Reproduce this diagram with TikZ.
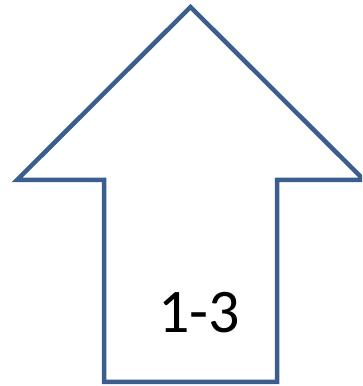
\documentclass[tikz,border=0pt]{standalone}
\usepackage{fontspec}
\setmainfont{Carlito}
\definecolor{arrowblue}{HTML}{3A5F8E}
\tikzset{arrowline/.style={draw=arrowblue,line width=4.5pt,line join=miter,fill=white}}
\begin{document}
\begin{tikzpicture}[x=1pt,y=1pt]
\useasboundingbox (0,0) rectangle (362,386);
\begin{scope}
\clip (0,0) rectangle (362,386);
\draw[arrowline] (190.5,379) -- (364,206) -- (277,206) -- (277,4) -- (104,4) -- (104,206) -- (17,206) -- cycle;
\end{scope}
\node[anchor=base,inner sep=0pt,font=\fontsize{62}{64}\selectfont] (lbl) at (199,53) {1-3};
\end{tikzpicture}
\end{document}
